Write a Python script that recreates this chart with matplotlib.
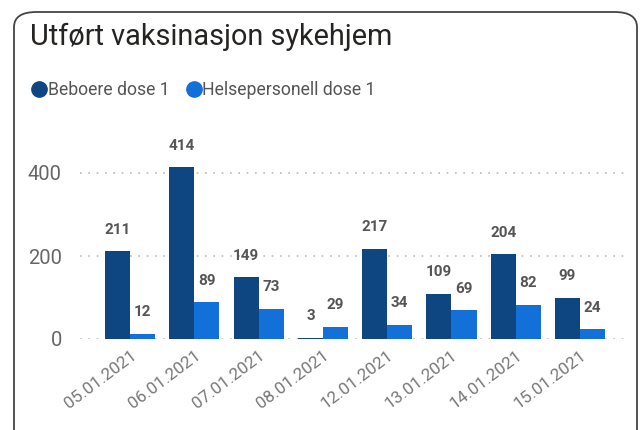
import matplotlib.pyplot as plt
import numpy as np
from matplotlib.patches import FancyBboxPatch
from matplotlib.lines import Line2D

dates = ["05.01.2021", "06.01.2021", "07.01.2021", "08.01.2021",
         "12.01.2021", "13.01.2021", "14.01.2021", "15.01.2021"]
beboere = [211, 414, 149, 3, 217, 109, 204, 99]
helse = [12, 89, 73, 29, 34, 69, 82, 24]

dark = "#0d4681"
light = "#1270d8"

plt.rcParams['font.family'] = ['Roboto', 'DejaVu Sans']

fig = plt.figure(figsize=(6.43, 4.3), dpi=100)
fig.patch.set_facecolor("white")

border = FancyBboxPatch((14 / 643, -0.05), 623 / 643, 1.05 - 12 / 430,
                        boxstyle="round,pad=0,rounding_size=0.035",
                        transform=fig.transFigure, fill=False,
                        edgecolor="#444444", linewidth=1.3)
fig.patches.append(border)

fig.text(30 / 643, 1 - 45 / 430, "Utført vaksinasjon sykehjem", fontsize=20.8,
         color="#252423", va="baseline", ha="left")

# legend
def fx(px):
    return px / 643

def fy(py):
    return 1 - py / 430

for cx, col, tx, lab in ((39, dark, 48, "Beboere dose 1"),
                         (194, light, 202, "Helsepersonell dose 1")):
    fig.add_artist(Line2D([fx(cx)], [fy(89)], marker="o", markersize=11, color=col,
                          linestyle="none", transform=fig.transFigure))
    fig.text(fx(tx), fy(95), lab, fontsize=12.7, color="#555555", va="baseline")

ax = fig.add_axes([80 / 643, 91 / 430, 545 / 643, 207.5 / 430])
x = np.arange(len(dates))
w = 0.39
b1 = ax.bar(x - w / 2, beboere, w, color=dark)
b2 = ax.bar(x + w / 2, helse, w, color=light)

for bars, vals in ((b1, beboere), (b2, helse)):
    for r, v in zip(bars, vals):
        ax.annotate(str(v), (r.get_x() + r.get_width() / 2, v), xytext=(0, 15.5),
                    textcoords="offset points", ha="center", va="center",
                    fontsize=11, color="#555555", fontweight="bold")

ax.set_xlim(-0.78, 7.7)
ax.set_ylim(0, 500)
ax.set_yticks([0, 200, 400])
ax.set_yticklabels(["0", "200", "400"], fontsize=14.5, color="#666666")
ax.set_xticks(x)
ax.set_xticklabels(dates, rotation=37, ha="right", rotation_mode="anchor",
                   fontsize=12.3, color="#777777")
ax.tick_params(length=0, axis="both", pad=6)
ax.tick_params(axis="y", pad=13)
for s in ax.spines.values():
    s.set_visible(False)
ax.yaxis.grid(True, linestyle=(0, (1, 4)), color="#bbbbbb", linewidth=1.2)
ax.set_axisbelow(True)

fig.savefig("out.png", dpi=100)
